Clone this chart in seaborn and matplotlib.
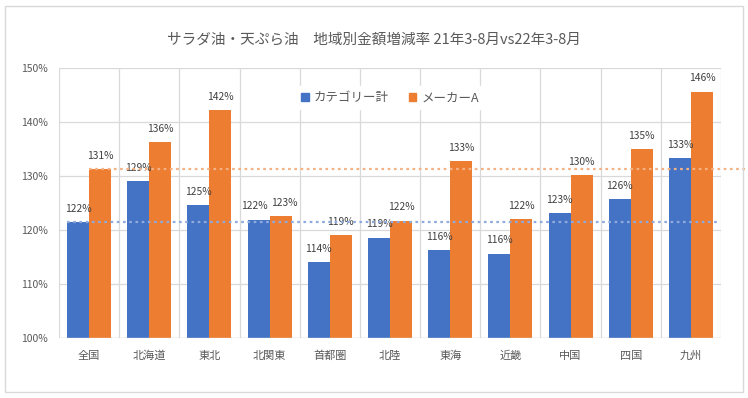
import matplotlib
matplotlib.use('Agg')
import matplotlib.pyplot as plt
from matplotlib.ticker import FuncFormatter, MultipleLocator
import matplotlib.patches as mpatches
import pandas as pd
import seaborn as sns

# データ
regions = ['全国', '北海道', '東北', '北関東', '首都圏', '北陸', '東海', '近畿', '中国', '四国', '九州']
category_total = [121.5, 129.1, 124.6, 121.9, 114.1, 118.6, 116.3, 115.6, 123.1, 125.7, 133.3]
maker_a = [131.3, 136.3, 142.2, 122.6, 119.1, 121.7, 132.8, 122.0, 130.2, 135.0, 145.6]
series_names = ['カテゴリー計', 'メーカーA']

blue = '#4472C4'
orange = '#ED7D31'
grey_text = '#595959'

df = pd.DataFrame({
    '地域': regions * 2,
    '系列': [series_names[0]] * len(regions) + [series_names[1]] * len(regions),
    '値': category_total + maker_a,
})

sns.set_theme(style='white')
plt.rcParams['font.family'] = ['Noto Sans CJK JP', 'DejaVu Sans']

fig = plt.figure(figsize=(7.48, 3.98), dpi=100)
ax = fig.add_axes([59 / 748, 1 - 338 / 398, (721 - 59) / 748, (338 - 68) / 398])

sns.barplot(data=df, x='地域', y='値', hue='系列', palette=[blue, orange],
            width=0.73, gap=0, saturation=1, ax=ax, legend=False, zorder=2,
            linewidth=0, edgecolor='none')

ax.set_ylim(100, 150)
ax.set_xlim(-0.5, len(regions) - 0.5)
ax.yaxis.set_major_locator(MultipleLocator(10))
ax.yaxis.set_major_formatter(FuncFormatter(lambda v, p: f'{v:.0f}%'))
ax.set_xlabel('')
ax.set_ylabel('')

# グリッド
ax.grid(axis='y', color='#D9D9D9', linewidth=0.9, zorder=0)
for i in range(len(regions) + 1):
    ax.axvline(i - 0.5, color='#D9D9D9', linewidth=0.9, zorder=0)
for s in ax.spines.values():
    s.set_visible(False)
ax.axhline(100, color='#D9D9D9', linewidth=1.0, zorder=3)

ax.tick_params(axis='both', length=0, colors=grey_text, labelsize=7.5)
ax.tick_params(axis='x', pad=9, labelsize=8)
ax.tick_params(axis='y', pad=8)

# データラベル（北関東は左右に少しずらして重なりを回避）
for k, cont in enumerate(ax.containers):
    txts = ax.bar_label(cont, labels=[f'{v:.0f}%' for v in cont.datavalues],
                        padding=6, fontsize=7.4, color='#404040')
    txts[3].xyann = (-3 if k == 0 else 3, 6)

# 全国の基準線
ax.plot([-0.365, len(regions) - 0.55], [category_total[0]] * 2, linestyle=(0, (1.2, 1.6)),
        color='#8FAADC', linewidth=1.6, zorder=4, clip_on=False)
ax.plot([0, len(regions) - 0.5 + 0.42], [maker_a[0]] * 2, linestyle=(0, (1.2, 1.6)),
        color='#F4B183', linewidth=1.6, zorder=4, clip_on=False)

# 凡例
handles = [mpatches.Patch(color=blue, label=series_names[0]),
           mpatches.Patch(color=orange, label=series_names[1])]
leg = ax.legend(handles=handles, loc='center', bbox_to_anchor=(0.5, 0.89), ncol=2,
                frameon=True, fontsize=9, handlelength=0.6, handleheight=0.6,
                handletextpad=0.4, columnspacing=1.6, borderpad=0.4)
leg.get_frame().set_facecolor('white')
leg.get_frame().set_edgecolor('white')
leg.get_frame().set_alpha(1)
for t in leg.get_texts():
    t.set_color(grey_text)

fig.text(0.5, 1 - 40 / 398, 'サラダ油・天ぷら油　地域別金額増減率 21年3-8月vs22年3-8月',
         ha='center', va='center', fontsize=10.5, color=grey_text)

# 外枠
fig.patches.append(mpatches.Rectangle((5 / 748, 6 / 398), 738 / 748, 386 / 398,
                                      transform=fig.transFigure, fill=False,
                                      edgecolor='#D9D9D9', linewidth=1.0))

fig.savefig('out.png', dpi=100, facecolor='white')
